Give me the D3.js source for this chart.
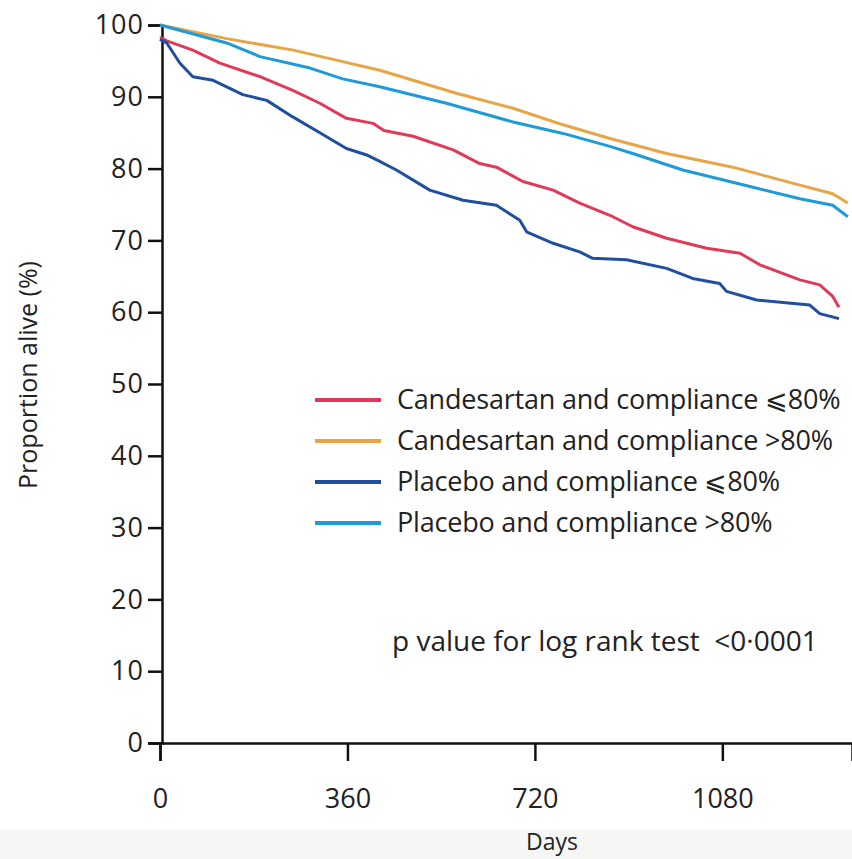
<!DOCTYPE html>
<html>
<head>
<meta charset="utf-8">
<script src="https://cdn.jsdelivr.net/npm/d3@7"></script>
<style>
  body { margin: 0; background: #fff; }
  svg { display: block; font-family: "Open Sans", "Noto Sans", sans-serif; }
</style>
</head>
<body>
<svg id="chart" width="852" height="859"></svg>
<script>
// series names and colours
var seriesNames = [
  "Candesartan and compliance \u2a7d80%",
  "Candesartan and compliance >80%",
  "Placebo and compliance \u2a7d80%",
  "Placebo and compliance >80%"
]
var seriesColors = ["#e03a58", "#e8a548", "#1f4f9e", "#1e9ad8"]

// [days, proportion alive %]
var candLow = [[0,98.3],[13,97.8],[63,96.5],[115,94.7],[192,92.8],[255,90.9],[307,89.1],[358,87.0],[409,86.3],[430,85.3],[486,84.5],[563,82.6],[614,80.7],[646,80.2],[697,78.2],[755,77.0],[806,75.2],[864,73.5],[908,71.9],[973,70.3],[1050,68.9],[1114,68.2],[1152,66.6],[1229,64.5],[1267,63.8],[1292,62.2],[1304,60.7]]
var candHigh = [[0,100],[128,98.1],[256,96.5],[351,94.9],[422,93.7],[569,90.5],[678,88.4],[774,86.1],[864,84.2],[973,82.1],[1100,80.2],[1229,77.7],[1292,76.5],[1321,75.2]]
var placLow = [[0,98.0],[13,97.5],[38,94.7],[63,92.8],[102,92.3],[159,90.3],[205,89.5],[255,87.2],[307,85.0],[358,82.8],[397,81.9],[422,81.0],[454,79.8],[518,77.0],[582,75.6],[646,74.9],[691,72.8],[704,71.2],[755,69.6],[806,68.4],[831,67.5],[896,67.3],[973,66.1],[1023,64.7],[1075,64.0],[1088,62.9],[1146,61.7],[1248,61.0],[1267,59.8],[1304,59.1]]
var placHigh = [[0,100],[128,97.5],[192,95.6],[288,94.0],[351,92.5],[422,91.4],[550,89.1],[678,86.5],[774,84.9],[864,83.1],[908,82.1],[1004,79.8],[1133,77.5],[1229,75.8],[1292,74.9],[1321,73.3]]
var seriesData = [candLow, candHigh, placLow, placHigh]

var xTicks = [0, 360, 720, 1080]
var yTicks = [0, 10, 20, 30, 40, 50, 60, 70, 80, 90, 100]

var svg = d3.select("#chart")

// faint strip at the bottom of the scan
svg.append("rect")
   .attr("x", 0).attr("y", 829).attr("width", 852).attr("height", 30)
   .attr("fill", "#f6f6f4")

var x = d3.scaleLinear().domain([0, 1329]).range([160, 852])
var y = d3.scaleLinear().domain([0, 100]).range([743, 25])

// y axis
var yAxis = svg.append("g")
   .attr("transform", "translate(" + 162 + ",0)")
   .call(d3.axisLeft(y).tickValues(yTicks).tickSize(14).tickPadding(4))
yAxis.select(".domain").attr("stroke", "#111").attr("stroke-width", 2.5)
yAxis.selectAll(".tick line").attr("stroke", "#111").attr("stroke-width", 2.5)
yAxis.selectAll(".tick text")
   .attr("font-size", 27).attr("fill", "#222")
   .attr("letter-spacing", 1)
   .attr("font-family", "'Open Sans', sans-serif")

// x axis
var xAxis = svg.append("g")
   .attr("transform", "translate(0," + 743 + ")")
   .call(d3.axisBottom(x).tickValues(xTicks).tickFormat(d3.format("d")).tickSize(18).tickPadding(28))
xAxis.select(".domain").attr("stroke", "#111").attr("stroke-width", 2.5)
xAxis.selectAll(".tick line").attr("stroke", "#111").attr("stroke-width", 2.5)
xAxis.selectAll(".tick text")
   .attr("font-size", 27).attr("fill", "#222")
   .attr("font-family", "'Open Sans', sans-serif")

// axis titles
svg.append("text")
   .attr("transform", "translate(37,375) rotate(-90)")
   .attr("text-anchor", "middle")
   .attr("font-size", 25).attr("fill", "#222")
   .text("Proportion alive (%)")

svg.append("text")
   .attr("x", 552).attr("y", 850)
   .attr("text-anchor", "middle")
   .attr("font-size", 23).attr("fill", "#222")
   .text("Days")

// survival curves
var line = d3.line()
   .x(function (d) { return x(d[0]) })
   .y(function (d) { return y(d[1]) })

svg.append("g").selectAll("path")
   .data(seriesData)
   .join("path")
   .attr("d", line)
   .attr("fill", "none")
   .attr("stroke", function (d, i) { return seriesColors[i] })
   .attr("stroke-width", 3)
   .attr("stroke-linejoin", "round")

// legend
var legend = svg.append("g")
var rows = [400, 441, 482, 523]
seriesNames.forEach(function (name, i) {
  legend.append("line")
     .attr("x1", 315).attr("x2", 381)
     .attr("y1", rows[i]).attr("y2", rows[i])
     .attr("stroke", seriesColors[i]).attr("stroke-width", 4)
  legend.append("text")
     .attr("x", 397).attr("y", rows[i] + 9)
     .attr("font-size", 27).attr("fill", "#222")
     .attr("letter-spacing", -0.2)
     .text(name)
})

svg.append("text")
   .attr("x", 392).attr("y", 651)
   .attr("font-size", 28).attr("fill", "#222")
   .attr("xml:space", "preserve")
   .text("p value for log rank test  <0\u00b70001")
</script>
</body>
</html>
